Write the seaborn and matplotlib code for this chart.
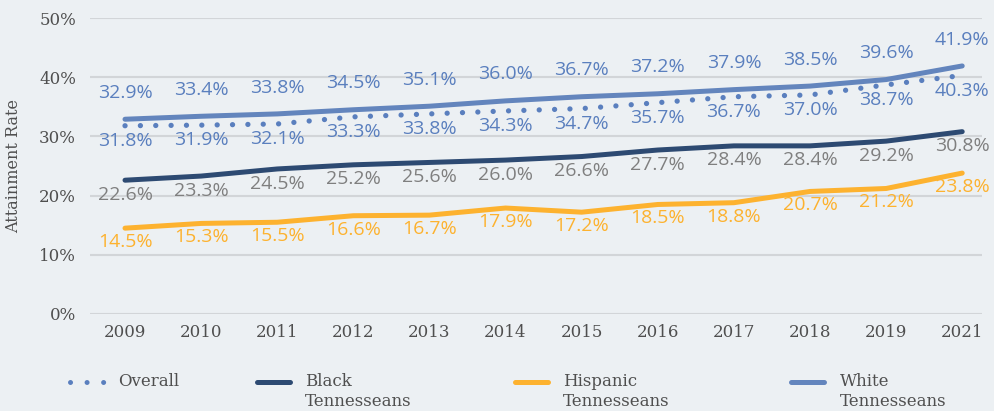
import numpy as np
import pandas as pd
import matplotlib
matplotlib.use("Agg")
import matplotlib.pyplot as plt
from matplotlib.lines import Line2D
import seaborn as sns

years = ["2009", "2010", "2011", "2012", "2013", "2014", "2015",
         "2016", "2017", "2018", "2019", "2021"]
overall = [31.8, 31.9, 32.1, 33.3, 33.8, 34.3, 34.7, 35.7, 36.7, 37.0, 38.7, 40.3]
black = [22.6, 23.3, 24.5, 25.2, 25.6, 26.0, 26.6, 27.7, 28.4, 28.4, 29.2, 30.8]
hispanic = [14.5, 15.3, 15.5, 16.6, 16.7, 17.9, 17.2, 18.5, 18.8, 20.7, 21.2, 23.8]
white = [32.9, 33.4, 33.8, 34.5, 35.1, 36.0, 36.7, 37.2, 37.9, 38.5, 39.6, 41.9]

series_names = ["Overall", "Black\nTennesseans", "Hispanic\nTennesseans", "White\nTennesseans"]
y_ticks = [0, 10, 20, 30, 40, 50]

BG = "#ecf0f3"
line_colors = {"Overall": "#5a7fbe", "Black\nTennesseans": "#2d4a72",
               "Hispanic\nTennesseans": "#fdb22f", "White\nTennesseans": "#6385bd"}
label_colors = {"Overall": "#5a7fbe", "Black\nTennesseans": "#7f7f7f",
                "Hispanic\nTennesseans": "#fdb22f", "White\nTennesseans": "#5a7fbe"}
# label offset in points (positive = above the line)
label_offsets = {"Overall": -11, "Black\nTennesseans": -10.5,
                 "Hispanic\nTennesseans": -10, "White\nTennesseans": 19}

df = pd.DataFrame({
    "Year": years * 4,
    "Rate": overall + black + hispanic + white,
    "Group": [n for n in series_names for _ in years],
})

sns.set_theme(style="white")
plt.rcParams["font.family"] = ["DejaVu Serif"]

fig = plt.figure(figsize=(9.95, 4.11), dpi=100, facecolor=BG)
ax = fig.add_axes([90 / 995, 1 - 314 / 411, 892 / 995, 296 / 411])
ax.set_facecolor(BG)

for name in series_names:
    sub = df[df["Group"] == name]
    if name == "Overall":
        sns.lineplot(data=sub, x="Year", y="Rate", ax=ax, color=line_colors[name],
                     lw=3.8, linestyle=(0, (0.01, 2.9)), dash_capstyle="round", zorder=3)
    else:
        sns.lineplot(data=sub, x="Year", y="Rate", ax=ax, color=line_colors[name],
                     lw=3.6, solid_capstyle="round", zorder=3)
    for i, v in enumerate(sub["Rate"]):
        ax.annotate(f"{v:.1f}%", (i, v), xytext=(0, label_offsets[name]),
                    textcoords="offset points", ha="center", va="center",
                    fontsize=14, color=label_colors[name], family="Open Sans")

ax.set_ylim(0, 50)
ax.set_xlim(-0.46, 11.26)
ax.set_yticks(y_ticks)
ax.set_yticklabels([f"{t}%" for t in y_ticks])
ax.grid(axis="y", color="#d2d5d8", lw=1.5)
ax.grid(axis="x", visible=False)
ax.set_axisbelow(True)
sns.despine(ax=ax, left=True, bottom=True)
ax.tick_params(axis="both", length=0, labelsize=12, colors="#4f4f4f")
ax.tick_params(axis="y", pad=10)
ax.tick_params(axis="x", pad=7)
ax.set_xlabel("")
ax.set_ylabel("Attainment Rate", fontsize=11.5, color="#4f4f4f", labelpad=12)

# legend: handles aligned with the first line of each label
handle_x = [70, 257, 515, 791]
text_x = [118, 305, 563, 840]
leg_y = 1 - 382 / 411
for name, hx, tx in zip(series_names, handle_x, text_x):
    if name == "Overall":
        h = Line2D([hx / 995, (hx + 34) / 995], [leg_y, leg_y], transform=fig.transFigure,
                   color=line_colors[name], lw=3.6, linestyle=(0, (0.01, 3.3)),
                   dash_capstyle="round")
    else:
        h = Line2D([hx / 995, (hx + 33) / 995], [leg_y, leg_y], transform=fig.transFigure,
                   color=line_colors[name], lw=3.6, solid_capstyle="round")
    fig.add_artist(h)
    fig.text(tx / 995, 1 - 373 / 411, name, ha="left", va="top", fontsize=12,
             color="#4f4f4f", linespacing=1.2)

fig.savefig("out.png", dpi=100, facecolor=BG)
